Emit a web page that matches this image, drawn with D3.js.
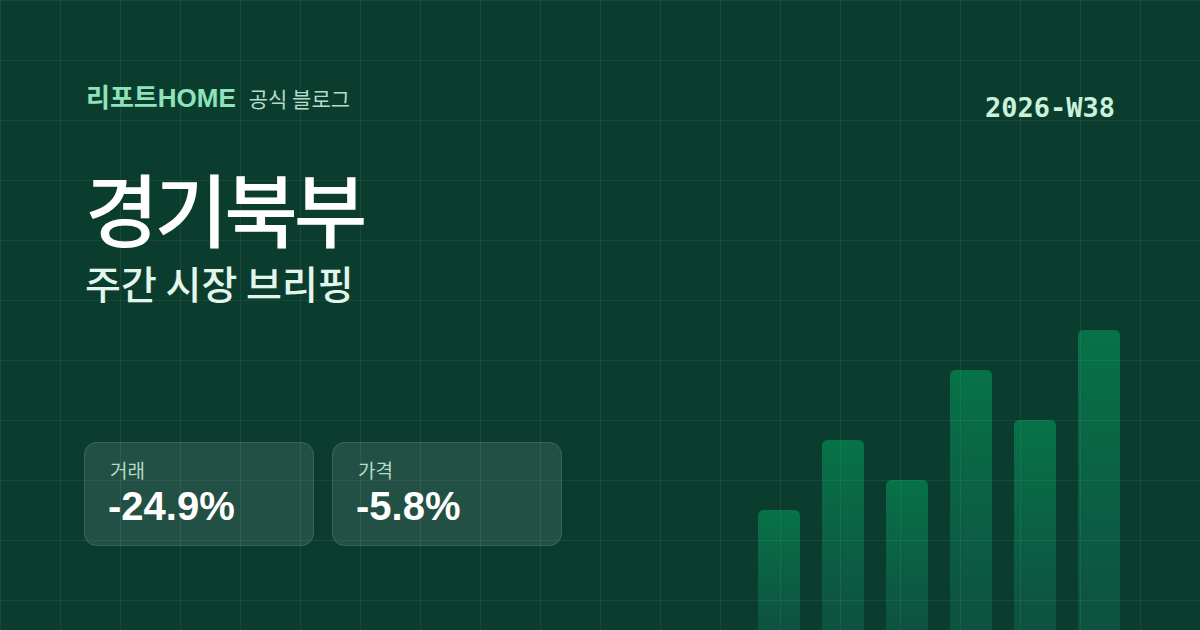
<!DOCTYPE html>
<html>
<head>
<meta charset="utf-8">
<script src="https://d3js.org/d3.v7.min.js"></script>
<style>
  body { margin: 0; background: #0b3d2f; }
  svg { display: block; }
</style>
</head>
<body>
<svg id="svg" width="1200" height="630"></svg>
<script>
// data
const weeks = ["W33", "W34", "W35", "W36", "W37", "W38"];
const barValues = [120, 190, 150, 260, 210, 300];
const statLabels = ["거래", "가격"];
const statValues = ["-24.9%", "-5.8%"];

const svg = d3.select("#svg");
const width = +svg.attr("width");
const height = +svg.attr("height");
const kr = "'Noto Sans CJK KR', 'Noto Sans', sans-serif";
const latin = "'Liberation Sans', Arial, 'Noto Sans CJK KR', sans-serif";

svg.append("rect").attr("width", width).attr("height", height).style("fill", "#0b3d2f");

// bar gradient
const defs = svg.append("defs");
const grad = defs.append("linearGradient").attr("id", "barGrad")
    .attr("x1", 0).attr("y1", 0).attr("x2", 0).attr("y2", 1);
grad.append("stop").attr("offset", "0%").attr("stop-color", "#077248");
grad.append("stop").attr("offset", "100%").attr("stop-color", "#0e5140");

// bars
const xScale = d3.scaleBand().domain(weeks).range([747, 1131]).paddingInner(22 / 64).paddingOuter(11 / 64);
const yScale = d3.scaleLinear().domain([0, 300]).range([630, 330]);
svg.append("g").attr("id", "bars")
    .selectAll("path").data(barValues)
    .join("path")
    .attr("d", (d, i) => {
        const x = xScale(weeks[i]), w = xScale.bandwidth();
        const y = yScale(d), r = 6, b = height;
        return `M${x},${b} V${y + r} Q${x},${y} ${x + r},${y} H${x + w - r} Q${x + w},${y} ${x + w},${y + r} V${b} Z`;
    })
    .style("fill", "url(#barGrad)");

// background grid, every 60px (shows through the bars)
const grid = svg.append("g").attr("id", "grid");
grid.selectAll("line.v").data(d3.range(0, width + 1, 60))
    .join("line").attr("class", "v")
    .attr("x1", d => d + 0.5).attr("x2", d => d + 0.5)
    .attr("y1", 0).attr("y2", height)
    .style("stroke", "rgba(255,255,255,0.06)");
grid.selectAll("line.h").data(d3.range(0, height + 1, 60))
    .join("line").attr("class", "h")
    .attr("y1", d => d + 0.5).attr("y2", d => d + 0.5)
    .attr("x1", 0).attr("x2", width)
    .style("stroke", "rgba(255,255,255,0.06)");

// header
const head = svg.append("text").attr("x", 86).attr("y", 107);
head.append("tspan").text("리포트HOME")
    .style("font-family", latin).style("font-weight", 700).style("font-size", "26px").style("fill", "#8fe3bb");
head.append("tspan").attr("dx", 13).text("공식 블로그")
    .style("font-family", kr).style("font-size", "21px").style("fill", "#b5dcc8");

svg.append("text").attr("x", 1115).attr("y", 117)
    .style("text-anchor", "end")
    .style("font-family", "'DejaVu Sans Mono', monospace").style("font-weight", 700)
    .style("font-size", "27px").style("fill", "#c9f1dc")
    .text("2026-W38");

svg.append("text").attr("x", 85).attr("y", 241)
    .style("font-family", kr).style("font-weight", 500).style("font-size", "80px")
    .style("letter-spacing", "-4px").style("fill", "#ffffff")
    .text("경기북부");

svg.append("text").attr("x", 85).attr("y", 299)
    .style("font-family", kr).style("font-weight", 500).style("font-size", "39px").style("fill", "#e3f6ec")
    .text("주간 시장 브리핑");

// stat cards
const cards = svg.append("g").attr("id", "cards").selectAll("g").data(statLabels)
    .join("g")
    .attr("transform", (_, i) => `translate(${84 + i * 248},442)`);
cards.append("rect")
    .attr("x", 0.5).attr("y", 0.5).attr("width", 229).attr("height", 103).attr("rx", 12)
    .style("fill", "rgba(255,255,255,0.1)").style("stroke", "rgba(255,255,255,0.16)");
cards.append("text").attr("x", 26).attr("y", 36)
    .style("font-family", kr).style("font-size", "19px").style("fill", "#b5dcc8")
    .text(d => d);
cards.append("text").attr("x", 24).attr("y", 78)
    .style("font-family", latin).style("font-weight", 700).style("font-size", "40px").style("fill", "#ffffff")
    .text((_, i) => statValues[i]);
</script>
</body>
</html>
